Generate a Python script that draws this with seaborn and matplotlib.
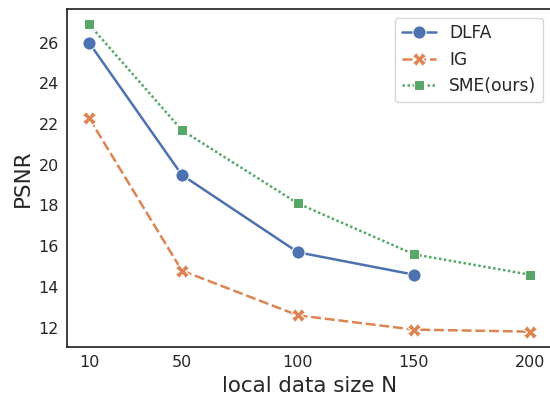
import matplotlib
matplotlib.use("Agg")
import matplotlib.pyplot as plt
import seaborn as sns
import pandas as pd

sizes = [10, 50, 100, 150, 200]
dlfa = [26.0, 19.5, 15.7, 14.6]
ig = [22.3, 14.8, 12.6, 11.9, 11.8]
sme = [26.9, 21.7, 18.1, 15.6, 14.6]

rows = []
for name, vals in [("DLFA", dlfa), ("IG", ig), ("SME(ours)", sme)]:
    for s, v in zip(sizes, vals):
        rows.append({"N": s, "PSNR": v, "method": name})
df = pd.DataFrame(rows)

sns.set_theme(style="white")
fig = plt.figure(figsize=(5.5, 3.96), dpi=100)
ax = fig.add_axes([67/550, 1-347/396, (552-67)/550, (347-9)/396])
sns.lineplot(data=df, x="N", y="PSNR", hue="method", style="method",
             markers=True, dashes=True, markersize=9.5, linewidth=1.8, ax=ax)
ax.set_xlabel("local data size N", fontsize=15.4)
ax.set_ylabel("PSNR", fontsize=15.4)
ax.set_xticks(sizes)
ax.set_yticks([12, 14, 16, 18, 20, 22, 24, 26])
ax.tick_params(axis="both", labelsize=11.5, length=0, pad=6)
ax.spines["right"].set_visible(False)
ax.legend(loc="upper right", title=None, fontsize=12.3)
fig.savefig("out.png", dpi=100)
